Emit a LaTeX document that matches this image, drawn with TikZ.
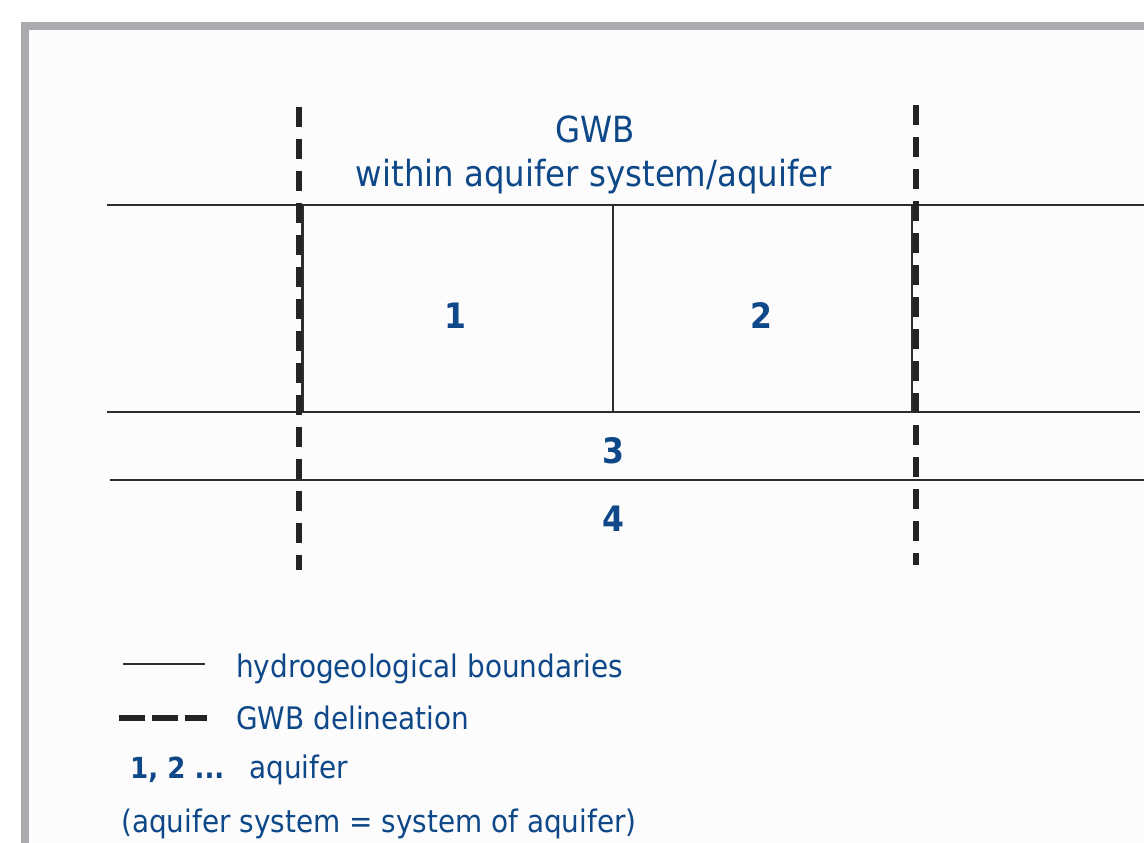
\documentclass[tikz,border=0pt]{standalone}
\usepackage{fontspec}
\setmainfont[FakeStretch=0.9]{DejaVu Sans}
\definecolor{txtblue}{RGB}{14,72,136}
\definecolor{framegray}{RGB}{170,171,174}
\definecolor{linegray}{RGB}{45,45,45}
\begin{document}
\begin{tikzpicture}[x=1pt,y=-1pt,
  hline/.style={draw=linegray,line width=2.4pt},
  gwbdash/.style={draw=linegray!80!black,line width=6pt,dash pattern=on 20pt off 12pt},
  lbl/.style={text=txtblue,font=\fontsize{36}{40}\selectfont,inner sep=0pt,anchor=base},
  num/.style={text=txtblue,font=\fontsize{35}{40}\selectfont\bfseries,inner sep=0pt},
  legtxt/.style={text=txtblue,font=\fontsize{31}{34}\selectfont,inner sep=0pt,anchor=base west}]
\useasboundingbox (0,0) rectangle (1144,843);
\fill[white] (0,0) rectangle (1144,843);
% frame
\fill[framegray] (21,22) rectangle (1144,30);
\fill[framegray] (21,22) rectangle (29,843);
\fill[black!1] (29,30) rectangle (1144,843);
% coordinates
\coordinate (h1a) at (107,205); \coordinate (h1b) at (1144,205);
\coordinate (h2a) at (107,412); \coordinate (h2b) at (1140,412);
\coordinate (h3a) at (110,480); \coordinate (h3b) at (1144,480);
\coordinate (mTop) at (613,205); \coordinate (mBot) at (613,412);
\coordinate (lsTop) at (302,205); \coordinate (lsBot) at (302,412);
\coordinate (rsTop) at (912,205); \coordinate (rsBot) at (912,412);
\coordinate (ldTop) at (299,107); \coordinate (ldBot) at (299,570);
\coordinate (rdTop) at (916,105); \coordinate (rdBot) at (916,565);
% solid lines
\draw[hline] (h1a) -- (h1b);
\draw[hline] (h2a) -- (h2b);
\draw[hline] (h3a) -- (h3b);
\draw[hline] (mTop) -- (mBot);
\draw[draw=linegray,line width=3pt] (lsTop) -- (lsBot);
\draw[draw=linegray,line width=2.5pt] (rsTop) -- (rsBot);
% GWB delineation
\draw[gwbdash] (ldTop) -- (ldBot);
\draw[gwbdash] (rdTop) -- (rdBot);
% labels
\node[lbl] (gwb) at (595,142) {GWB};
\node[lbl] (within) at (594,186) {within aquifer system/aquifer};
\node[num] (n1) at (455,316) {1};
\node[num] (n2) at (761,316) {2};
\node[num] (n3) at (613,451) {3};
\node[num] (n4) at (613,519) {4};
% legend
\coordinate (l1a) at (123,664); \coordinate (l1b) at (205,664);
\draw[draw=linegray,line width=2.4pt] (l1a) -- (l1b);
\node[legtxt] (t1) at (236,677) {hydrogeological boundaries};
\coordinate (l2a) at (119,718); \coordinate (l2b) at (207,718);
\draw[draw=linegray!80!black,line width=6pt,dash pattern=on 26pt off 7pt] (l2a) -- (l2b);
\node[legtxt] (t2) at (236,729) {GWB delineation};
\node[legtxt,font=\fontsize{29}{32}\selectfont\bfseries] (t3a) at (130,778) {1, 2 ...};
\node[legtxt] (t3b) at (249,778) {aquifer};
\node[legtxt] (t4) at (121,832) {(aquifer system = system of aquifer)};
\end{tikzpicture}
\end{document}
